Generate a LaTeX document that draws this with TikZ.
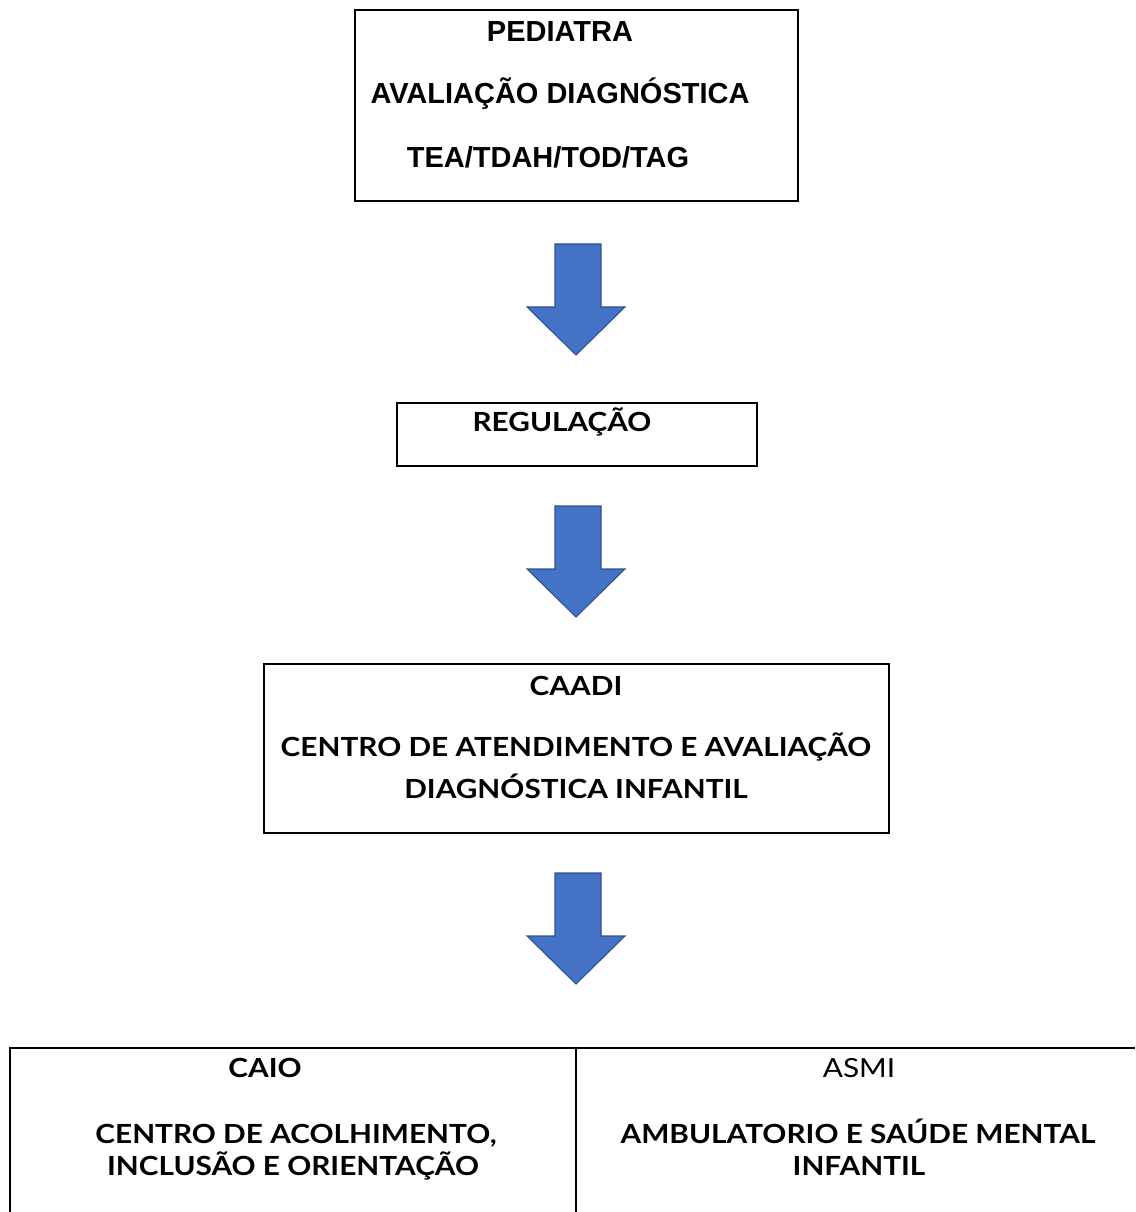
\documentclass[tikz,border=0pt]{standalone}
\usepackage{fontspec}
\setmainfont{Lato}
\newfontfamily\arialfont{Liberation Sans}
\usetikzlibrary{fit}

\definecolor{arrowblue}{HTML}{4472C4}
\definecolor{arrowedge}{HTML}{2F528F}

\tikzset{
  frame/.style={draw=black, line width=1.1pt, inner sep=0pt},
  arialtext/.style={font=\arialfont\bfseries\fontsize{16.5}{19}\selectfont,
    inner sep=0pt, text height=11.8pt, text depth=0pt},
  boxtext/.style={font=\bfseries\fontsize{15}{18}\selectfont,
    inner sep=0pt, text height=10.8pt, text depth=0pt, xscale=1.13, transform shape},
  bluearrow/.style={fill=arrowblue, draw=arrowedge, line width=0.6pt, line join=miter}
}

\begin{document}
\begin{tikzpicture}[x=0.02cm,y=-0.02cm]
  \useasboundingbox (0,0) rectangle (1135,1212);

  % pediatra
  \node (ped) [frame, fit={(355,10) (798,201)}] {};
  \node (pedA) [arialtext] at (560,31) {PEDIATRA};
  \node (pedB) [arialtext] at (560,93) {AVALIAÇÃO DIAGNÓSTICA};
  \node (pedC) [arialtext] at (548,157) {TEA/TDAH/TOD/TAG};

  % regulacao
  \node (reg) [frame, fit={(397,403) (757,466)}] {};
  \node (regA) [boxtext] at (562,422) {REGULAÇÃO};

  % caadi
  \node (caadi) [frame, fit={(264,664) (889,833)}] {};
  \node (caadiA) [boxtext] at (576,686) {CAADI};
  \node (caadiB) [boxtext] at (576,747) {CENTRO DE ATENDIMENTO E AVALIAÇÃO};
  \node (caadiC) [boxtext] at (576,789) {DIAGNÓSTICA INFANTIL};

  % setas
  \foreach \ya/\yb in {244/355, 506/617, 873/984}
    \draw[bluearrow] (555,\ya) -- (601,\ya) -- (601,\yb-48) -- (625,\yb-48)
      -- (576,\yb) -- (527,\yb-48) -- (555,\yb-48) -- cycle;

  % tabela final
  \coordinate (tabTL) at (10,1048);
  \coordinate (tabTR) at (1135,1048);
  \coordinate (tabBL) at (10,1212);
  \coordinate (midT) at (576,1048);
  \coordinate (midB) at (576,1212);
  \draw[frame] (tabBL) -- (tabTL) -- (tabTR);
  \draw[frame] (midT) -- (midB);

  \node (caioA) [boxtext] at (265,1068) {CAIO};
  \node (caioB) [boxtext] at (296,1134) {CENTRO DE ACOLHIMENTO,};
  \node (caioC) [boxtext] at (293,1166) {INCLUSÃO E ORIENTAÇÃO};
  \node (asmiA) [boxtext, font=\fontsize{15}{18}\selectfont] at (859,1068) {ASMI};
  \node (asmiB) [boxtext] at (858,1134) {AMBULATORIO E SAÚDE MENTAL};
  \node (asmiC) [boxtext] at (859,1166) {INFANTIL};
\end{tikzpicture}
\end{document}
